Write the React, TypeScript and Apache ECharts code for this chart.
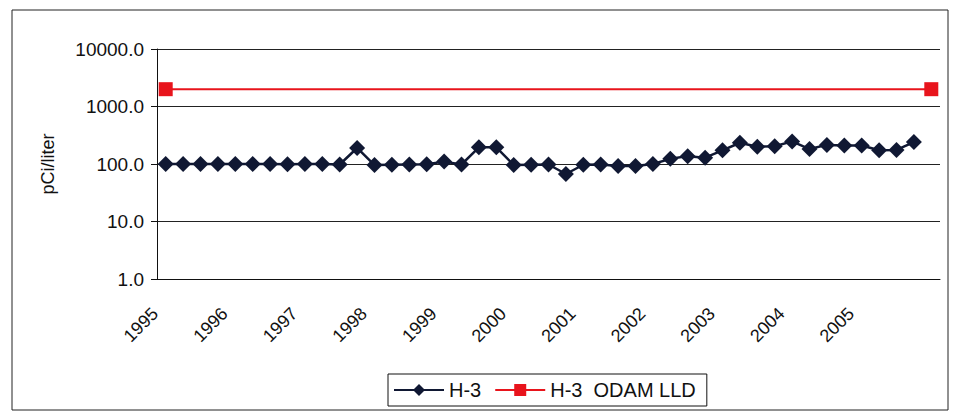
import React, { useEffect, useRef } from "react";
import * as echarts from "echarts";

const yearLabels = ["1995", "1996", "1997", "1998", "1999", "2000", "2001", "2002", "2003", "2004", "2005"];
const quarters = ["Q1", "Q2", "Q3", "Q4"];
const categories: string[] = [];
yearLabels.forEach((y) => quarters.forEach((q) => categories.push(y + " " + q)));
categories.push("2006 Q1");

const h3Values: (number | null)[] = [
  100, 100, 100, 100, 100, 100, 100, 99, 100, 100, 98, 190,
  96, 97, 98, 99, 110, 98, 195, 195, 96, 97, 98, 67,
  97, 98, 92, 92, 100, 123, 137, 129, 173, 234, 200, 203,
  247, 182, 215, 209, 210, 174, 176, 241, null,
];

const lldValues: (number | null)[] = categories.map((_, i) =>
  i === 0 || i === categories.length - 1 ? 2000 : null
);

const yTicks = [1, 10, 100, 1000, 10000];

export default function App() {
  const ref = useRef<HTMLDivElement>(null);
  useEffect(() => {
    if (!ref.current) return;
    const chart = echarts.init(ref.current, undefined, { renderer: "svg" });
    const font = "'Liberation Sans', Arial, sans-serif";
    chart.setOption({
      animation: false,
      backgroundColor: "#ffffff",
      textStyle: { fontFamily: font },
      graphic: [
        {
          type: "rect",
          shape: { x: 12, y: 10, width: 936, height: 400 },
          style: { fill: "none", stroke: "#222", lineWidth: 1 },
          silent: true,
        },
      ],
      grid: { left: 157, top: 49, width: 783, height: 230, containLabel: false },
      legend: {
        left: 388,
        top: 374,
        padding: [6, 11, 6, 5],
        borderColor: "#111",
        borderWidth: 1,
        itemWidth: 50,
        itemHeight: 15,
        itemGap: 13,
        textStyle: { fontFamily: font, fontSize: 20, color: "#111" },
        data: ["H-3", "H-3  ODAM LLD"],
      },
      xAxis: {
        type: "category",
        data: categories,
        boundaryGap: true,
        axisLine: { lineStyle: { color: "#111", width: 1 } },
        axisTick: { interval: 0, length: 6, lineStyle: { color: "#111" } },
        axisLabel: {
          interval: 0,
          rotate: 45,
          margin: 21,
          padding: [0, 15, 0, 0],
          fontSize: 18,
          color: "#111",
          fontFamily: font,
          formatter: (_v: string, idx: number) =>
            idx % 4 === 0 && idx / 4 < yearLabels.length ? yearLabels[idx / 4] : "",
        },
        splitLine: { show: false },
      },
      yAxis: {
        type: "log",
        logBase: 10,
        min: yTicks[0],
        max: yTicks[yTicks.length - 1],
        name: "pCi/liter",
        nameLocation: "middle",
        nameGap: 100,
        nameTextStyle: { fontSize: 18, color: "#111", fontFamily: font },
        axisLine: { show: true, lineStyle: { color: "#111", width: 1 } },
        axisTick: { show: true, length: 6, lineStyle: { color: "#111" } },
        axisLabel: {
          fontSize: 19,
          color: "#111",
          margin: 13,
          fontFamily: font,
          formatter: (v: number) => v.toFixed(1),
        },
        splitLine: { show: true, lineStyle: { color: "#222", width: 1 } },
      },
      series: [
        {
          name: "H-3",
          type: "line",
          data: h3Values,
          symbol: "diamond",
          symbolSize: 16,
          lineStyle: { color: "#101833", width: 2.5 },
          itemStyle: { color: "#101833" },
        },
        {
          name: "H-3  ODAM LLD",
          type: "line",
          data: lldValues,
          connectNulls: true,
          symbol: "rect",
          symbolSize: 14,
          lineStyle: { color: "#e8141c", width: 2 },
          itemStyle: { color: "#e8141c" },
        },
      ],
    });
    return () => chart.dispose();
  }, []);
  return (
    <div
      ref={ref}
      style={{ position: "fixed", left: 0, top: 0, width: 953, height: 418, background: "#fff" }}
    />
  );
}
